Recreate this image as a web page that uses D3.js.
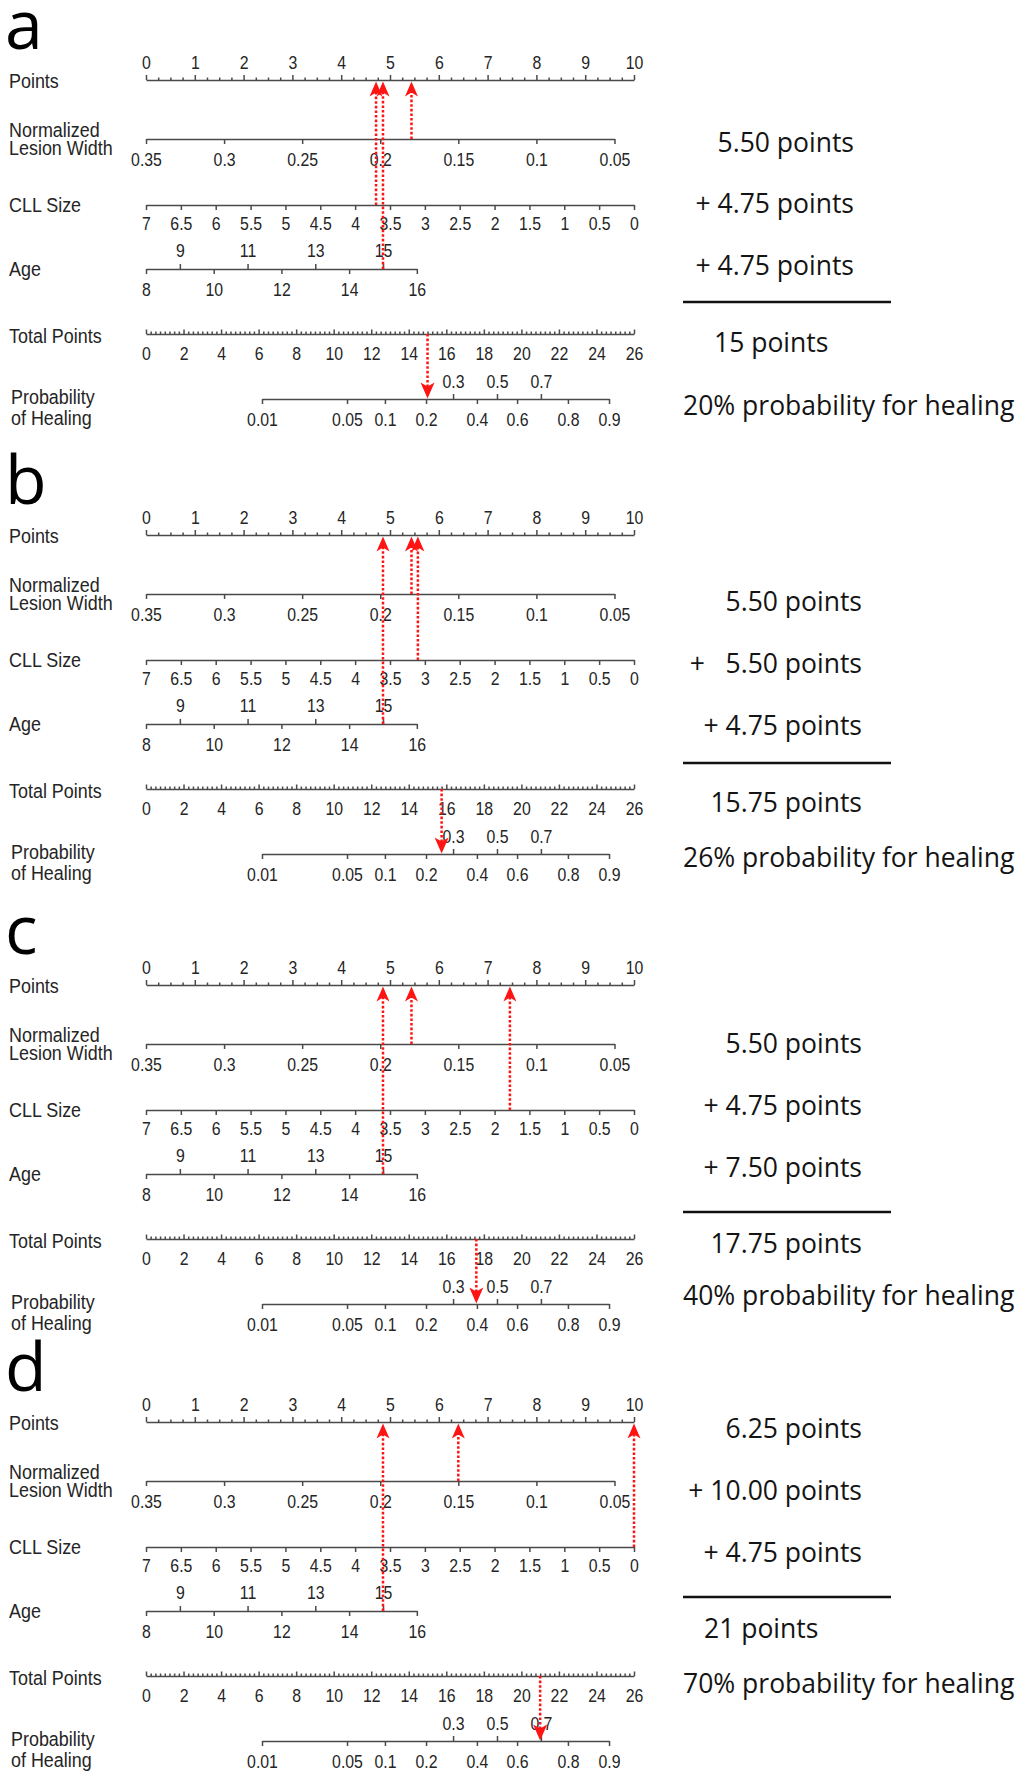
<!DOCTYPE html>
<html><head><meta charset="utf-8">
<script src="https://cdn.jsdelivr.net/npm/d3@7"></script>
<style>
html,body{margin:0;padding:0;background:#fff;}
.nomo text{font-family:"Liberation Sans",Arial,sans-serif;fill:#252525;}
.summary text{font-family:"Open Sans",sans-serif;fill:#141414;white-space:pre;}
.letter{font-family:"Open Sans",sans-serif;fill:#000;}
</style></head><body>
<svg id="chart" width="1019" height="1773"></svg>
<script>
// ---------------- data ----------------
const panelLetters = ["a", "b", "c", "d"];
const pointsTickLabels = [0, 1, 2, 3, 4, 5, 6, 7, 8, 9, 10];
const nlwTickLabels = [0.35, 0.3, 0.25, 0.2, 0.15, 0.1, 0.05];
const cllTickLabels = [7, 6.5, 6, 5.5, 5, 4.5, 4, 3.5, 3, 2.5, 2, 1.5, 1, 0.5, 0];
const ageTickLabels = [8, 9, 10, 11, 12, 13, 14, 15, 16];
const ageLabelsAbove = [9, 11, 13, 15];
const totalTickLabels = [0, 2, 4, 6, 8, 10, 12, 14, 16, 18, 20, 22, 24, 26];
const probTickLabels = [0.01, 0.05, 0.1, 0.2, 0.3, 0.4, 0.5, 0.6, 0.7, 0.8, 0.9];
const probLabelsAbove = [0.3, 0.5, 0.7];
// total points at which each probability tick sits
const probTotalPoints = [6.18, 10.71, 12.73, 14.92, 16.36, 17.63, 18.70, 19.77, 21.04, 22.48, 24.67];
// points given at the two ends of each predictor axis
const nlwPointRange = [0, 9.6];   // 0.35 -> 0, 0.05 -> 9.6
const cllPointRange = [0, 10];    // 7 -> 0, 0 -> 10
const agePointRange = [0, 5.55];  // 8 -> 0, 16 -> 5.55
// example patients, one per panel
const panelNLW = [0.18, 0.18, 0.18, 0.15];
const panelCLL = [3.7, 3.1, 1.78, 0];
const panelAge = [15, 15, 15, 15];
const panelTotal = [15, 15.75, 17.6, 21];
const panelSummaries = [
  ["5.50 points", "+ 4.75 points", "+ 4.75 points", "15 points", "20% probability for healing"],
  ["5.50 points", "+   5.50 points", "+ 4.75 points", "15.75 points", "26% probability for healing"],
  ["5.50 points", "+ 4.75 points", "+ 7.50 points", "17.75 points", "40% probability for healing"],
  ["6.25 points", "+ 10.00 points", "+ 4.75 points", "21 points", "70% probability for healing"]
];

// ---------------- layout ----------------
const panelOffsets = [0, 455, 905, 1342];
const Y = { pts: 80, nlw: 139, cll: 205, age: 269, tot: 334, prob: 399 };
const summaryLayout = [
  { rows: [152, 213, 275, 352, 415], rule: 302, addEnd: 854, totAnchor: "start", totX: 714 },
  { rows: [156, 218, 280, 357, 412], rule: 308, addEnd: 862, totAnchor: "end", totX: 862 },
  { rows: [148, 210, 272, 348, 400], rule: 307, addEnd: 862, totAnchor: "end", totX: 862 },
  { rows: [96, 158, 220, 296, 351], rule: 255, addEnd: 862, totAnchor: "start", totX: 704 }
];
const SUM_FONT = 26.5;

const svg = d3.select("#chart");
const xPts = d3.scaleLinear().domain([0, 10]).range([146, 634]);
const xTot = d3.scaleLinear().domain([0, 26]).range([146, 634]);
const xNLW = d3.scaleLinear().domain([0.35, 0.05]).range(nlwPointRange.map(xPts));
const xCLL = d3.scaleLinear().domain([7, 0]).range(cllPointRange.map(xPts));
const xAge = d3.scaleLinear().domain([8, 16]).range(agePointRange.map(xPts));
const xProb = d3.scaleLinear().domain(probTickLabels).range(probTotalPoints.map(xTot));

const AXIS_COL = "#4a4a4a";
const RED = "#ff1414";
const fmt = d => String(d);

function axis(g, scale, y, orient, values, size, labelY, showDomain, labels) {
  const ax = (orient === "top" ? d3.axisTop(scale) : d3.axisBottom(scale))
    .tickValues(values).tickSize(size).tickSizeOuter(0)
    .tickFormat(labels ? fmt : () => "");
  const a = g.append("g").attr("transform", `translate(0,${y})`).call(ax);
  a.attr("font-size", null).attr("font-family", null);
  a.select(".domain").attr("stroke", AXIS_COL).attr("stroke-width", 1.7)
    .style("display", showDomain ? null : "none");
  a.selectAll(".tick line").attr("stroke", AXIS_COL).attr("stroke-width", 1.5);
  a.selectAll(".tick text").attr("y", labelY).attr("dy", null)
    .attr("font-size", 18).attr("transform", "scale(0.88,1)").attr("fill", "#252525");
  return a;
}

function label(g, x, y, txt) {
  g.append("text").attr("transform", `translate(${x},${y}) scale(0.92,1)`)
    .attr("font-size", 19.5).text(txt);
}

function upArrow(g, x, yFrom, yTo) {
  const tip = yTo + 1.5;
  g.append("line").attr("x1", x).attr("x2", x).attr("y1", yFrom).attr("y2", tip + 10)
    .attr("stroke", RED).attr("stroke-width", 2.5).attr("stroke-dasharray", "2.6,2");
  g.append("path").attr("d", `M${x},${tip} L${x + 6.5},${tip + 15} L${x},${tip + 11} L${x - 6.5},${tip + 15} Z`)
    .attr("fill", RED);
}
function downArrow(g, x, yFrom, yTo) {
  const tip = yTo - 0.5;
  g.append("line").attr("x1", x).attr("x2", x).attr("y1", yFrom).attr("y2", tip - 10)
    .attr("stroke", RED).attr("stroke-width", 2.5).attr("stroke-dasharray", "2.6,2");
  g.append("path").attr("d", `M${x},${tip} L${x + 7},${tip - 16} L${x},${tip - 12} L${x - 7},${tip - 16} Z`)
    .attr("fill", RED);
}

panelLetters.forEach((letter, i) => {
  const g = svg.append("g").attr("class", "nomo").attr("transform", `translate(0,${panelOffsets[i]})`);
  svg.append("text").attr("class", "letter").attr("x", 5).attr("y", panelOffsets[i] + 49)
    .attr("font-size", 68).text(letter);

  // Points
  const minorPts = d3.range(0, 10.001, 0.25).filter(v => Math.abs(v - Math.round(v)) > 1e-6);
  axis(g, xPts, Y.pts, "top", minorPts, 2.5, 0, false, false);
  axis(g, xPts, Y.pts, "top", pointsTickLabels, 5, -11, true, true);
  label(g, 9, 88, "Points");

  // Normalized lesion width
  axis(g, xNLW, Y.nlw, "bottom", nlwTickLabels, 5, 27, true, true);
  label(g, 9, 137, "Normalized");
  label(g, 9, 155, "Lesion Width");

  // CLL size
  axis(g, xCLL, Y.cll, "bottom", cllTickLabels, 5, 25, true, true);
  label(g, 9, 212, "CLL Size");

  // Age
  axis(g, xAge, Y.age, "top", ageLabelsAbove, 5, -12, false, true);
  axis(g, xAge, Y.age, "bottom", ageTickLabels.filter(v => !ageLabelsAbove.includes(v)), 5, 27, true, true);
  label(g, 9, 276, "Age");

  // Total points
  const minorTot = d3.range(0, 26.001, 0.25).filter(v => Math.abs(v / 2 - Math.round(v / 2)) > 1e-6);
  axis(g, xTot, Y.tot, "top", minorTot, 2.5, 0, false, false);
  axis(g, xTot, Y.tot, "top", totalTickLabels, 4.5, 0, true, false);
  axis(g, xTot, Y.tot, "bottom", totalTickLabels, 0, 26, false, true);
  label(g, 9, 343, "Total Points");

  // Probability
  axis(g, xProb, Y.prob, "top", probLabelsAbove, 5, -11, false, true);
  axis(g, xProb, Y.prob, "bottom", probTickLabels.filter(v => !probLabelsAbove.includes(v)), 5, 27, true, true);
  label(g, 11, 404, "Probability");
  label(g, 11, 425, "of Healing");

  // arrows
  upArrow(g, xNLW(panelNLW[i]), Y.nlw, Y.pts);
  upArrow(g, xCLL(panelCLL[i]), Y.cll, Y.pts);
  upArrow(g, xAge(panelAge[i]), Y.age, Y.pts);
  downArrow(g, xTot(panelTotal[i]), Y.tot, Y.prob);

  // summary text
  const L = summaryLayout[i];
  const s = svg.append("g").attr("class", "summary").attr("transform", `translate(0,${panelOffsets[i]})`);
  const lines = panelSummaries[i];
  [0, 1, 2].forEach(k => {
    s.append("text").attr("x", L.addEnd).attr("y", L.rows[k]).attr("text-anchor", "end")
      .attr("font-size", SUM_FONT).text(lines[k]);
  });
  s.append("line").attr("x1", 683).attr("x2", 891).attr("y1", L.rule).attr("y2", L.rule)
    .attr("stroke", "#111").attr("stroke-width", 2.6);
  s.append("text").attr("x", L.totX).attr("y", L.rows[3]).attr("text-anchor", L.totAnchor)
    .attr("font-size", SUM_FONT).text(lines[3]);
  s.append("text").attr("x", 683).attr("y", L.rows[4]).attr("font-size", SUM_FONT).text(lines[4]);
});
</script>
</body></html>
